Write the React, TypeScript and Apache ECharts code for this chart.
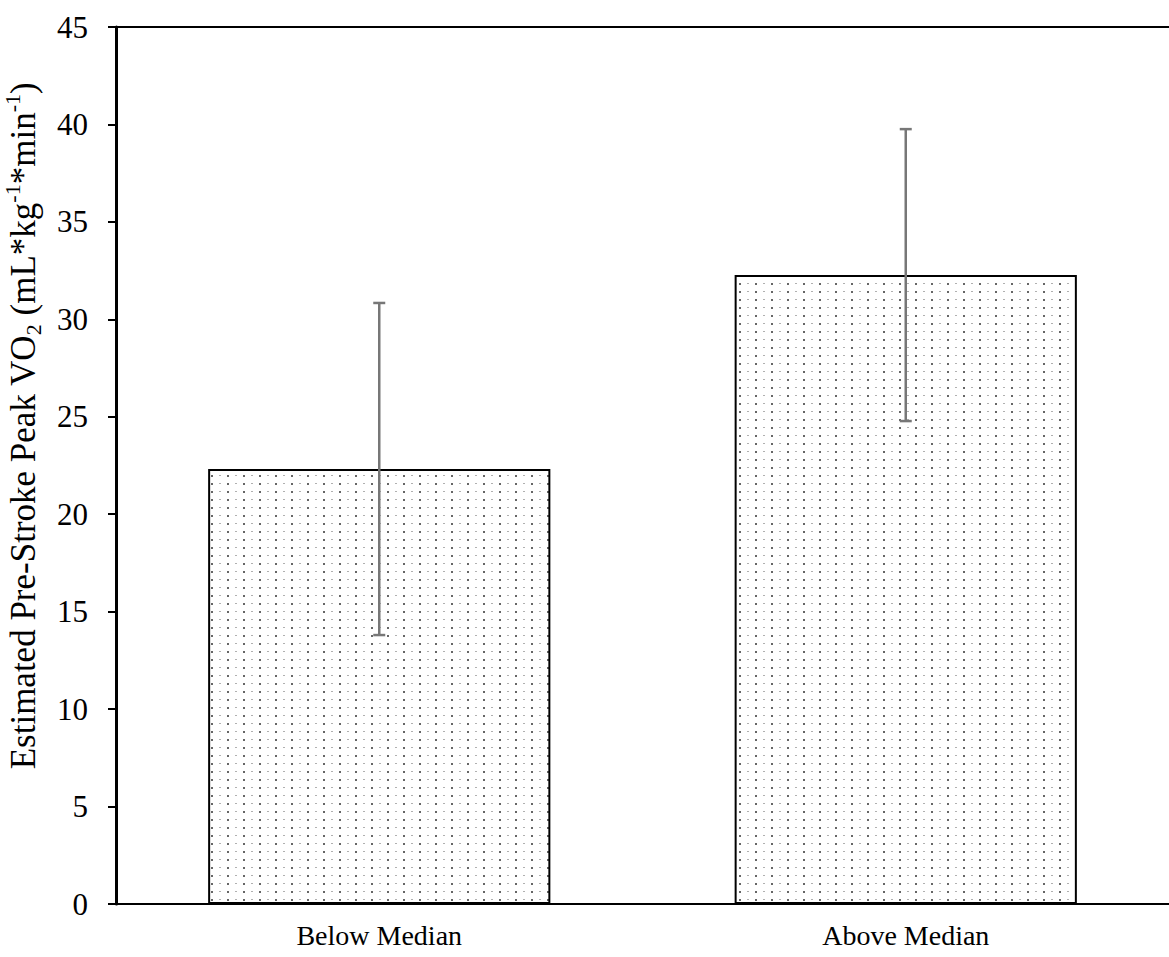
import React, { useEffect, useRef } from "react";
import * as echarts from "echarts";

const categories = ["Below Median", "Above Median"];
const means = [22.32, 32.27];
const sds = [8.52, 7.49];
const yTicks = { min: 0, max: 45, interval: 5 };
const yTitle = "{n|Estimated Pre-Stroke Peak VO}{sub|2}{n| (mL*kg}{sup|-1}{n|*min}{sup|-1}{n|)}";

const FONT = "'Liberation Serif', 'Times New Roman', serif";

function makePattern(): HTMLCanvasElement {
  const c = document.createElement("canvas");
  c.width = 16;
  c.height = 8;
  const ctx = c.getContext("2d")!;
  ctx.fillStyle = "#ffffff";
  ctx.fillRect(0, 0, 16, 8);
  ctx.fillStyle = "#666666";
  ctx.fillRect(3, 3, 2, 2);
  ctx.fillStyle = "#b0b0b0";
  ctx.fillRect(11, 3, 2, 1);
  return c;
}

export default function App() {
  const ref = useRef<HTMLDivElement>(null);
  useEffect(() => {
    if (!ref.current) return;
    const chart = echarts.init(ref.current, undefined, { renderer: "svg" });
    const errData = means.map((m, i) => [i, m - sds[i], m + sds[i]]);
    chart.setOption({
      animation: false,
      backgroundColor: "#ffffff",
      grid: { left: 116, top: 27, right: -13, bottom: 53, containLabel: false },
      graphic: [
        {
          type: "text",
          x: 23,
          y: 426,
          rotation: Math.PI / 2,
          style: {
            text: yTitle,
            align: "center",
            verticalAlign: "middle",
            rich: {
              n: { fontFamily: FONT, fontSize: 35, fill: "#000", lineHeight: 43 },
              sub: { fontFamily: FONT, fontSize: 22, fill: "#000", lineHeight: 22, verticalAlign: "bottom" },
              sup: { fontFamily: FONT, fontSize: 22, fill: "#000", lineHeight: 22, verticalAlign: "top" },
            },
          },
        },
      ],
      xAxis: [
        {
          type: "category",
          data: categories,
          axisLine: { lineStyle: { color: "#000", width: 2 } },
          axisTick: { show: false },
          axisLabel: { color: "#000", fontFamily: FONT, fontSize: 28, margin: 17 },
        },
        {
          type: "category",
          data: categories,
          position: "top",
          axisLine: { lineStyle: { color: "#000", width: 2 } },
          axisTick: { show: false },
          axisLabel: { show: false },
        },
      ],
      yAxis: {
        type: "value",
        min: yTicks.min,
        max: yTicks.max,
        interval: yTicks.interval,
        splitLine: { show: false },
        axisLine: { show: true, lineStyle: { color: "#000", width: 3 } },
        axisTick: { show: true, length: 8, lineStyle: { color: "#000", width: 2 } },
        axisLabel: { color: "#000", fontFamily: FONT, fontSize: 31, margin: 28 },
      },
      series: [
        {
          type: "bar",
          data: means,
          barWidth: "65%",
          itemStyle: {
            color: { image: makePattern(), repeat: "repeat" },
            borderColor: "#000",
            borderWidth: 2,
          },
        },
        {
          type: "custom",
          data: errData,
          z: 10,
          renderItem: (params: any, api: any) => {
            const x = api.value(0);
            const lo = api.coord([x, api.value(1)]);
            const hi = api.coord([x, api.value(2)]);
            const hw = 6;
            const style = { stroke: "#777777", lineWidth: 2.5 };
            return {
              type: "group",
              children: [
                { type: "line", shape: { x1: lo[0], y1: lo[1], x2: hi[0], y2: hi[1] }, style },
                { type: "line", shape: { x1: lo[0] - hw, y1: lo[1], x2: lo[0] + hw, y2: lo[1] }, style },
                { type: "line", shape: { x1: hi[0] - hw, y1: hi[1], x2: hi[0] + hw, y2: hi[1] }, style },
              ],
            };
          },
        },
      ],
    });
    return () => chart.dispose();
  }, []);
  return (
    <div style={{ position: "fixed", left: 0, top: 0, width: 1169, height: 957, overflow: "hidden", background: "#fff" }}>
      <div ref={ref} style={{ width: 1169, height: 957 }} />
    </div>
  );
}
